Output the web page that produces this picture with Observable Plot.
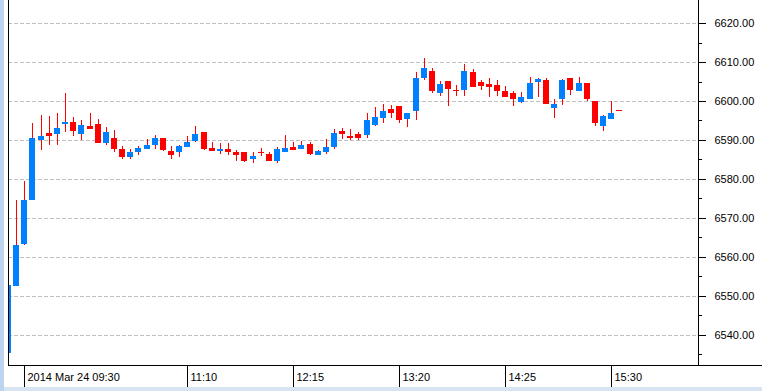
<!DOCTYPE html>
<html><head><meta charset="utf-8">
<script src="https://cdn.jsdelivr.net/npm/d3@7"></script>
<script src="https://cdn.jsdelivr.net/npm/@observablehq/plot@0.6"></script>
<style>
html,body{margin:0;padding:0;}
body{width:762px;height:391px;overflow:hidden;position:relative;background:#d9e4f2;}
#lstrip{position:absolute;left:0;top:0;width:4px;height:391px;background:#bcd4ee;}
#wrap{position:absolute;left:4px;top:0;width:758px;height:387px;background:#fff;}
#wrap svg{display:block;}
</style></head><body>
<div id="lstrip"></div><div id="wrap"></div>
<script>
const times = ["09:20","09:25","09:30","09:35","09:40","09:45","09:50","09:55","10:00","10:05",
"10:10","10:15","10:20","10:25","10:30","10:35","10:40","10:45","10:50","10:55",
"11:00","11:05","11:10","11:15","11:20","11:25","11:30","11:35","11:40","11:45",
"11:50","11:55","12:00","12:05","12:10","12:15","12:20","12:25","12:30","12:35",
"12:40","12:45","12:50","12:55","13:00","13:05","13:10","13:15","13:20","13:25",
"13:30","13:35","13:40","13:45","13:50","13:55","14:00","14:05","14:10","14:15",
"14:20","14:25","14:30","14:35","14:40","14:45","14:50","14:55","15:00","15:05",
"15:10","15:15","15:20","15:25","15:30","15:35"];
const open = [6535.5,6552.6,6563.3,6574.6,6590.1,6591.9,6591.6,6594.2,6594.7,6591.6,
6593.7,6594.2,6589.3,6590.6,6587.8,6585.7,6587.0,6587.8,6588.8,6590.6,
6587.3,6586.8,6588.3,6589.8,6592.1,6588.0,6587.3,6587.8,6587.0,6586.8,
6585.0,6587.0,6586.5,6584.7,6587.0,6588.3,6587.8,6589.1,6586.2,6586.8,
6588.3,6592.4,6591.1,6591.6,6591.4,6593.9,6595.7,6598.0,6598.8,6595.5,
6597.5,6606.0,6607.8,6602.1,6605.2,6602.9,6602.9,6607.5,6605.0,6604.4,
6604.2,6602.6,6602.1,6599.8,6600.6,6605.0,6605.5,6598.3,6600.6,6606.0,
6602.6,6604.7,6600.1,6593.7,6595.5,6597.8];
const high = [6552.8,6574.6,6579.5,6594.4,6596.5,6596.2,6597.0,6602.1,6596.0,6595.2,
6596.8,6595.5,6593.4,6592.6,6588.5,6587.8,6588.5,6590.3,6591.4,6590.6,
6588.5,6588.8,6590.9,6593.7,6592.1,6589.6,6589.3,6589.3,6587.5,6587.0,
6587.0,6588.0,6586.8,6588.3,6591.4,6589.6,6589.8,6589.6,6587.5,6590.3,
6592.9,6593.2,6592.9,6592.1,6596.8,6598.5,6599.3,6599.1,6598.8,6597.0,
6607.5,6611.1,6608.5,6605.2,6605.2,6604.2,6609.6,6608.3,6605.5,6606.0,
6605.5,6603.9,6602.6,6602.4,6606.2,6606.0,6606.0,6600.6,6605.7,6606.0,
6606.2,6604.7,6600.1,6596.5,6600.1,6597.8];
const low = [6535.5,6552.6,6563.1,6574.6,6587.5,6588.8,6588.8,6592.1,6590.9,6590.1,
6592.9,6589.3,6588.8,6587.0,6585.0,6585.2,6586.2,6587.8,6587.8,6587.3,
6585.2,6585.7,6588.3,6589.6,6587.5,6587.3,6586.5,6586.2,6584.7,6584.3,
6584.2,6586.0,6584.7,6584.2,6587.0,6587.5,6587.8,6586.2,6586.2,6586.5,
6587.8,6590.3,6590.1,6590.1,6590.6,6593.7,6594.4,6595.7,6594.4,6593.4,
6595.0,6605.5,6602.1,6601.4,6598.8,6601.4,6601.4,6603.7,6602.9,6601.1,
6601.4,6600.9,6598.8,6599.6,6600.6,6600.9,6599.3,6595.7,6599.1,6601.6,
6602.6,6600.1,6593.7,6592.4,6595.5,6597.8];
const close = [6552.8,6563.1,6574.6,6590.6,6591.1,6591.1,6593.2,6594.7,6592.4,6593.9,
6592.9,6589.3,6592.1,6587.8,6585.7,6587.0,6588.0,6588.8,6590.6,6587.5,
6586.2,6588.5,6589.6,6591.6,6587.8,6587.3,6587.8,6586.8,6586.2,6584.7,
6586.0,6587.0,6584.7,6587.8,6588.0,6587.5,6588.8,6586.5,6587.3,6588.3,
6591.9,6591.6,6590.6,6590.6,6595.0,6596.0,6597.5,6597.0,6595.2,6596.8,
6606.0,6608.5,6602.6,6604.4,6603.2,6602.9,6607.8,6603.7,6603.9,6603.7,
6602.6,6601.1,6600.6,6601.1,6604.7,6605.7,6599.3,6599.3,6605.5,6602.9,
6604.7,6600.6,6594.4,6596.2,6596.8,6597.8];
const yTicks = [6540,6550,6560,6570,6580,6590,6600,6610,6620];
const yMinorTicks = [6535,6545,6555,6565,6575,6585,6595,6605,6615];
const xTickTimes = ["09:30","11:10","12:15","13:20","14:25","15:30"];
const xTickLabels = ["2014 Mar 24 09:30","11:10","12:15","13:20","14:25","15:30"];

const UP = "#0080ff", DOWN = "#ff0000";
const candles = times.map((t, i) => ({i, t, o: open[i], h: high[i], l: low[i], c: close[i]}));
const xt = xTickTimes.map((t, k) => ({i: times.indexOf(t), label: xTickLabels[k]}));
const X_MAX = 690 / 8.15;
const Y_MIN = 6532.3, Y_MAX = 6625.9;

const chart = Plot.plot({
  width: 758, height: 387,
  marginLeft: 4, marginRight: 64, marginTop: 0, marginBottom: 22,
  style: {fontFamily: "'Liberation Sans', Arial, sans-serif", fontSize: "11px", color: "#000", background: "#fff"},
  x: {domain: [0, X_MAX], round: true, axis: null, label: null},
  y: {domain: [Y_MIN, Y_MAX], round: true, axis: null, label: null},
  color: {type: "identity"},
  marks: [
    Plot.ruleY(yTicks, {stroke: "#c0c0c0", strokeDasharray: "4,2"}),
    Plot.ruleX(candles.filter(d => d.h > d.l), {x: "i", y1: "l", y2: "h", stroke: DOWN, strokeWidth: 1, clip: true}),
    Plot.rect(candles.filter(d => d.o !== d.c), {
      x1: "i", x2: "i", insetLeft: -3, insetRight: -3,
      y1: d => Math.min(d.o, d.c), y2: d => Math.max(d.o, d.c),
      fill: d => d.c > d.o ? UP : DOWN, clip: true
    }),
    Plot.ruleY(candles.filter(d => d.o === d.c), {x1: "i", x2: "i", y: "c", insetLeft: -3, insetRight: -3, stroke: DOWN}),
    Plot.ruleX([0, X_MAX], {stroke: "#000"}),
    Plot.ruleY([Y_MIN], {x1: 0, x2: 754 / 8.15, stroke: "#000"}),
    Plot.axisY({anchor: "right", label: null, ticks: yTicks, tickSize: 7, tickPadding: 9, tickFormat: d => d.toFixed(2), fill: "#000"}),
    Plot.axisY({anchor: "right", label: null, ticks: yMinorTicks, tickSize: 3, tickFormat: () => ""}),
    Plot.axisX({anchor: "bottom", label: null, ticks: xt.map(d => d.i), tickSize: 22, tickFormat: () => ""}),
    Plot.text(xt, {x: "i", text: "label", frameAnchor: "bottom", textAnchor: "start", lineAnchor: "middle", dx: 3, dy: 12, fill: "#000"})
  ]
});
document.getElementById("wrap").appendChild(chart);
</script>
</body></html>
